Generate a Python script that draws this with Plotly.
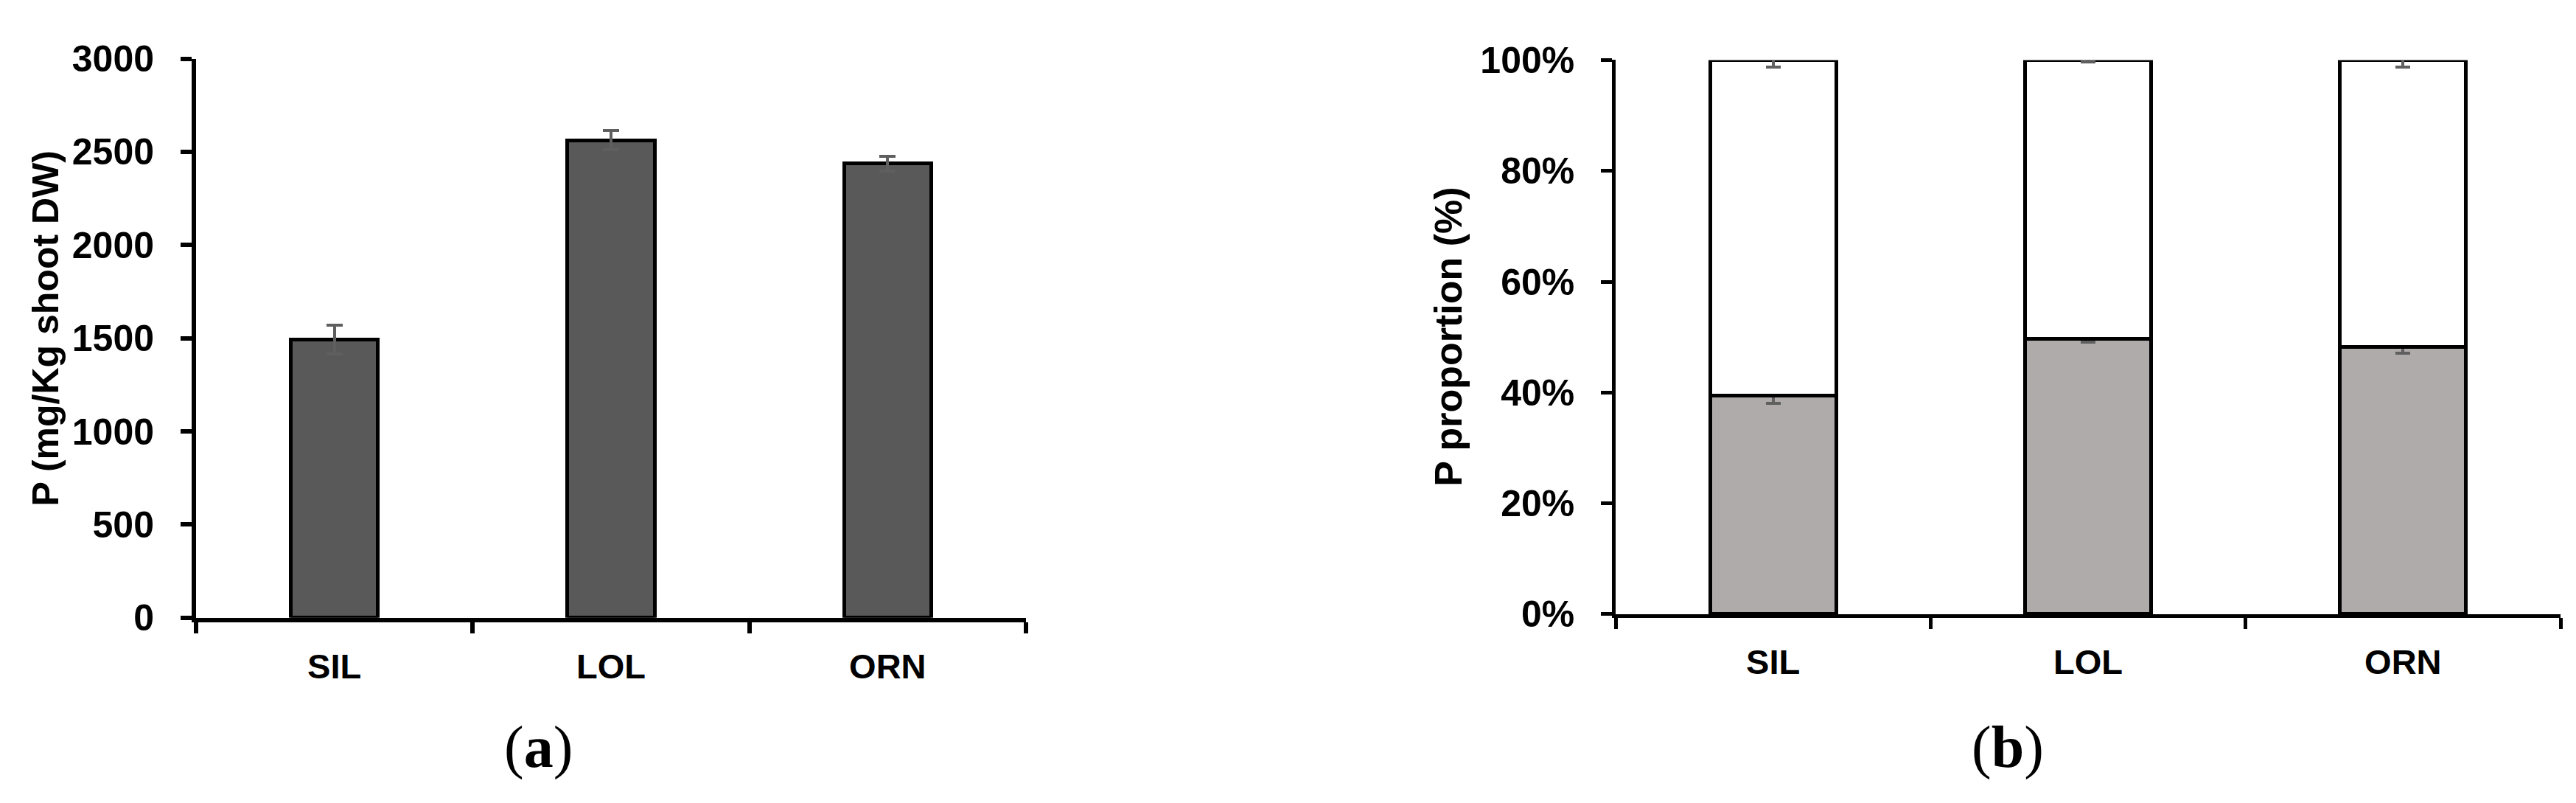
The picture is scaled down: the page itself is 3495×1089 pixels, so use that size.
import plotly.graph_objects as go

W, H = 3495, 1089

categories = ["SIL", "LOL", "ORN"]
# Panel (a): P concentration (mg/Kg shoot DW)
p_conc = [1492, 2563, 2438]
p_conc_err = [77, 52, 40]
# Panel (b): P proportion (%), lower (grey) and upper (white) parts
p_low = [39.4, 49.7, 48.3]
p_low_err = [1.3, 0.6, 1.2]
p_high = [60.6, 50.3, 51.7]
p_high_err = [1.2, 0.4, 1.2]
yticks_b = [0, 20, 40, 60, 80, 100]
ytick_b_text = ["0%", "20%", "40%", "60%", "80%", "100%"]

FONT = "Liberation Sans, Arial, sans-serif"
SERIF = "Liberation Serif, Times New Roman, serif"

fig = go.Figure()

fig.add_trace(go.Bar(
    x=categories, y=p_conc, width=0.315,
    marker=dict(color="#595959", line=dict(color="black", width=5)),
    error_y=dict(type="data", array=p_conc_err, color="#5f5f5f", thickness=4, width=11),
    xaxis="x", yaxis="y", showlegend=False))

fig.add_trace(go.Bar(
    x=categories, y=p_low, width=0.40,
    marker=dict(color="#AFABAB", line=dict(color="black", width=5)),
    error_y=dict(type="data", array=p_low_err, color="#5f5f5f", thickness=4, width=10),
    xaxis="x2", yaxis="y2", showlegend=False))
fig.add_trace(go.Bar(
    x=categories, y=p_high, width=0.40,
    marker=dict(color="white", line=dict(color="black", width=5)),
    error_y=dict(type="data", array=p_high_err, color="#5f5f5f", thickness=4, width=10),
    xaxis="x2", yaxis="y2", showlegend=False))

tickfont = dict(family=FONT, size=50, color="black", weight="bold")
xtickfont = dict(family=FONT, size=47, color="black", weight="bold")

common_x = dict(showline=True, linecolor="black", ticks="outside", ticklen=15,
                tickcolor="black", tickson="boundaries", showgrid=False,
                zeroline=False, tickfont=xtickfont, ticklabelstandoff=20, fixedrange=True)
common_y = dict(showline=True, linecolor="black", ticks="outside", ticklen=15,
                tickcolor="black", showgrid=False, zeroline=False, tickfont=tickfont,
                ticklabelstandoff=26, fixedrange=True)

fig.update_layout(
    width=W, height=H,
    margin=dict(l=0, r=0, t=0, b=0),
    paper_bgcolor="white", plot_bgcolor="white",
    barmode="stack",
    xaxis=dict(domain=[258 / W, 1384 / W], anchor="y", linewidth=6, tickwidth=6,
               range=[-0.5, 2.5], **common_x),
    yaxis=dict(domain=[(H - 846) / H, (H - 46) / H], anchor="x", linewidth=6, tickwidth=6,
               range=[0, 3000], tickvals=[0, 500, 1000, 1500, 2000, 2500, 3000], **common_y),
    xaxis2=dict(domain=[2184 / W, 3466 / W], anchor="y2", linewidth=4.5, tickwidth=4.5,
                range=[-0.5, 2.5], **common_x),
    yaxis2=dict(domain=[(H - 841) / H, (H - 48) / H], anchor="x2", linewidth=4.5, tickwidth=4.5,
                range=[0, 100], tickvals=yticks_b, ticktext=ytick_b_text, **common_y),
)

fig.add_annotation(text="P (mg/Kg shoot DW)", textangle=-90, x=54 / W, y=(H - 432) / H,
                   xref="paper", yref="paper", xanchor="center", yanchor="middle",
                   showarrow=False, font=dict(family=FONT, size=50, color="black", weight="bold"))
fig.add_annotation(text="P proportion (%)", textangle=-90, x=1957 / W, y=(H - 444) / H,
                   xref="paper", yref="paper", xanchor="center", yanchor="middle",
                   showarrow=False, font=dict(family=FONT, size=52, color="black", weight="bold"))
fig.add_annotation(text="(<b>a</b>)", x=722 / W, y=(H - 1032) / H,
                   xref="paper", yref="paper", xanchor="center", yanchor="middle",
                   showarrow=False, font=dict(family=SERIF, size=80, color="black"))
fig.add_annotation(text="(<b>b</b>)", x=2716 / W, y=(H - 1032) / H,
                   xref="paper", yref="paper", xanchor="center", yanchor="middle",
                   showarrow=False, font=dict(family=SERIF, size=80, color="black"))

fig.write_html("out.html")
